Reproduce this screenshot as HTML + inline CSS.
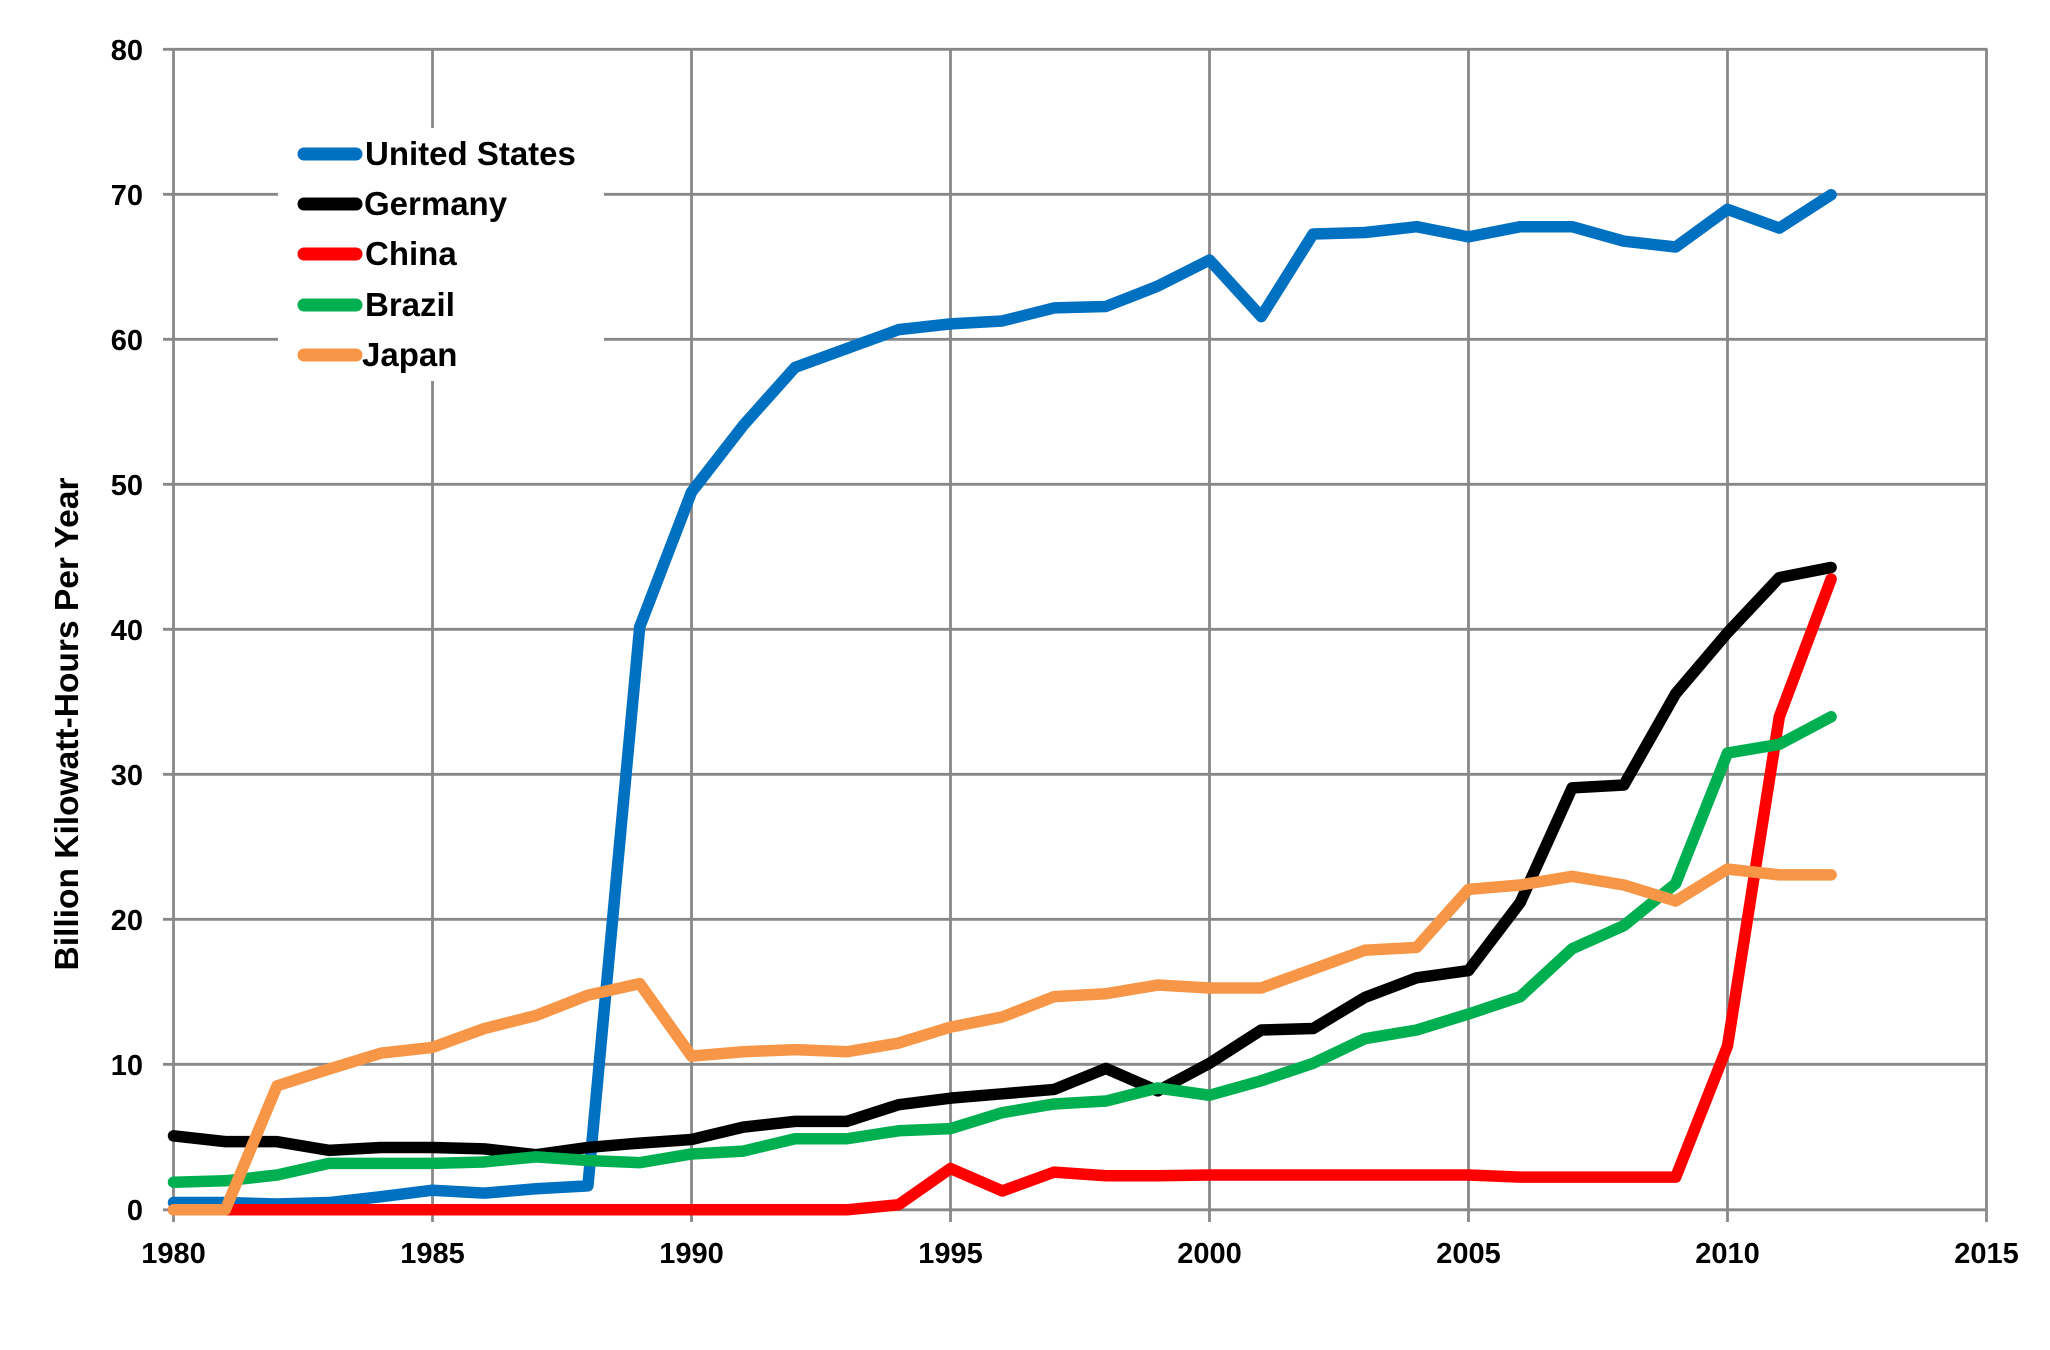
<!DOCTYPE html>
<html><head><meta charset="utf-8"><style>
html,body{margin:0;padding:0;background:#fff;}
svg{display:block;}
text{font-family:"Liberation Sans",sans-serif;font-weight:bold;fill:#000;}
</style></head><body>
<svg width="2050" height="1350" viewBox="0 0 2050 1350" xmlns="http://www.w3.org/2000/svg">
<rect x="0" y="0" width="2050" height="1350" fill="#fff"/>
<g stroke="#888" stroke-width="2.8" fill="none">
<line x1="163" y1="49.3" x2="1987.5" y2="49.3"/>
<line x1="163" y1="194.3" x2="1987.5" y2="194.3"/>
<line x1="163" y1="339.3" x2="1987.5" y2="339.3"/>
<line x1="163" y1="484.3" x2="1987.5" y2="484.3"/>
<line x1="163" y1="629.3" x2="1987.5" y2="629.3"/>
<line x1="163" y1="774.3" x2="1987.5" y2="774.3"/>
<line x1="163" y1="919.3" x2="1987.5" y2="919.3"/>
<line x1="163" y1="1064.3" x2="1987.5" y2="1064.3"/>
<line x1="163" y1="1209.8" x2="1987.5" y2="1209.8"/>
<line x1="173.5" y1="49.3" x2="173.5" y2="1222"/>
<line x1="432.5" y1="49.3" x2="432.5" y2="1222"/>
<line x1="691.5" y1="49.3" x2="691.5" y2="1222"/>
<line x1="950.5" y1="49.3" x2="950.5" y2="1222"/>
<line x1="1209.5" y1="49.3" x2="1209.5" y2="1222"/>
<line x1="1468.5" y1="49.3" x2="1468.5" y2="1222"/>
<line x1="1727.5" y1="49.3" x2="1727.5" y2="1222"/>
<line x1="1986.5" y1="49.3" x2="1986.5" y2="1222"/>
</g>
<g font-size="29" text-anchor="end">
<text x="143" y="59.8">80</text>
<text x="143" y="204.8">70</text>
<text x="143" y="349.8">60</text>
<text x="143" y="494.8">50</text>
<text x="143" y="639.8">40</text>
<text x="143" y="784.8">30</text>
<text x="143" y="929.8">20</text>
<text x="143" y="1074.8">10</text>
<text x="143" y="1219.8">0</text>
</g>
<g font-size="29" text-anchor="middle">
<text x="173.5" y="1263">1980</text>
<text x="432.5" y="1263">1985</text>
<text x="691.5" y="1263">1990</text>
<text x="950.5" y="1263">1995</text>
<text x="1209.5" y="1263">2000</text>
<text x="1468.5" y="1263">2005</text>
<text x="1727.5" y="1263">2010</text>
<text x="1986.5" y="1263">2015</text>
</g>
<text font-size="33" text-anchor="middle" transform="translate(78,724) rotate(-90)" textLength="493" lengthAdjust="spacingAndGlyphs">Billion Kilowatt-Hours Per Year</text>

<g transform="translate(173.5,1209.8) scale(51.8,-14.5)" fill="none" stroke-width="11.5" stroke-linejoin="round" stroke-linecap="round">
<polyline vector-effect="non-scaling-stroke" stroke="#0070C0" points="0,0.5 1,0.5 2,0.4 3,0.5 4,0.9 5,1.35 6,1.15 7,1.45 8,1.65 9,40.2 10,49.5 11,54.1 12,58.1 13,59.4 14,60.7 15,61.1 16,61.3 17,62.2 18,62.3 19,63.7 20,65.5 21,61.6 22,67.3 23,67.4 24,67.8 25,67.1 26,67.8 27,67.8 28,66.8 29,66.4 30,69.0 31,67.7 32,70.0"/>
<polyline vector-effect="non-scaling-stroke" stroke="#000000" points="0,5.1 1,4.7 2,4.7 3,4.1 4,4.3 5,4.3 6,4.2 7,3.8 8,4.3 9,4.6 10,4.85 11,5.7 12,6.1 13,6.1 14,7.25 15,7.7 16,8.0 17,8.3 18,9.75 19,8.2 20,10.1 21,12.4 22,12.5 23,14.65 24,16.0 25,16.5 26,21.2 27,29.1 28,29.3 29,35.6 30,39.8 31,43.6 32,44.3"/>
<polyline vector-effect="non-scaling-stroke" stroke="#FF0000" points="0,0 1,0 2,0 3,0 4,0 5,0 6,0 7,0 8,0 9,0 10,0 11,0 12,0 13,0 14,0.35 15,2.85 16,1.3 17,2.6 18,2.35 19,2.35 20,2.4 21,2.4 22,2.4 23,2.4 24,2.4 25,2.4 26,2.25 27,2.25 28,2.25 29,2.25 30,11.3 31,34.0 32,43.5"/>
<polyline vector-effect="non-scaling-stroke" stroke="#00B050" points="0,1.9 1,2.0 2,2.4 3,3.2 4,3.2 5,3.2 6,3.3 7,3.65 8,3.4 9,3.25 10,3.85 11,4.05 12,4.9 13,4.9 14,5.45 15,5.6 16,6.7 17,7.3 18,7.5 19,8.4 20,7.9 21,8.9 22,10.1 23,11.8 24,12.4 25,13.5 26,14.7 27,18.0 28,19.6 29,22.5 30,31.5 31,32.1 32,34.0"/>
<polyline vector-effect="non-scaling-stroke" stroke="#F79646" points="0,0 1,0 2,8.55 3,9.7 4,10.8 5,11.2 6,12.5 7,13.4 8,14.8 9,15.6 10,10.6 11,10.9 12,11.05 13,10.9 14,11.5 15,12.6 16,13.3 17,14.7 18,14.9 19,15.5 20,15.3 21,15.3 22,16.6 23,17.9 24,18.1 25,22.1 26,22.4 27,23.0 28,22.4 29,21.3 30,23.5 31,23.1 32,23.1"/>
</g>

<rect x="278" y="128" width="326" height="253" fill="#fff"/>
<g stroke-width="13" stroke-linecap="round">
<line x1="304" y1="154" x2="356" y2="154" stroke="#0070C0"/>
<line x1="304" y1="204" x2="356" y2="204" stroke="#000000"/>
<line x1="304" y1="254" x2="356" y2="254" stroke="#FF0000"/>
<line x1="304" y1="305" x2="356" y2="305" stroke="#00B050"/>
<line x1="304" y1="355" x2="356" y2="355" stroke="#F79646"/>
</g>
<g font-size="33">
<text x="365" y="165">United States</text>
<text x="364" y="215">Germany</text>
<text x="365" y="265">China</text>
<text x="365" y="316">Brazil</text>
<text x="362" y="366">Japan</text>
</g>
</svg>
</body></html>
